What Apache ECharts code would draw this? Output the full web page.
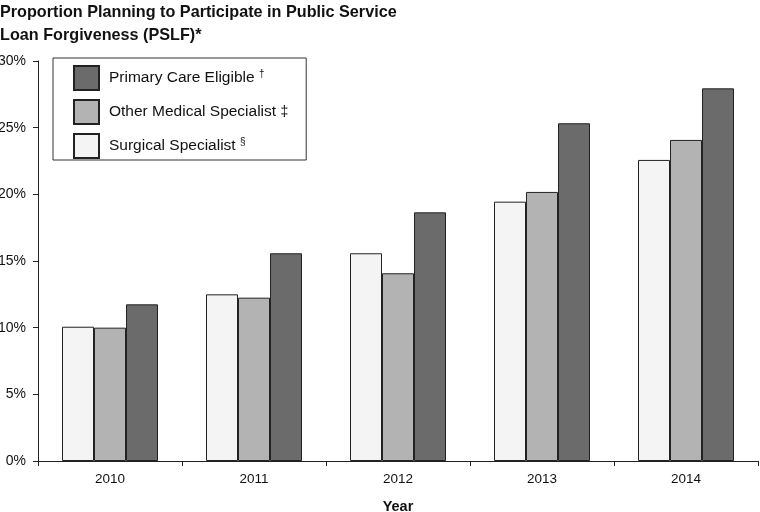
<!DOCTYPE html>
<html>
<head>
<meta charset="utf-8">
<script src="https://cdn.jsdelivr.net/npm/echarts@6/dist/echarts.min.js"></script>
<style>html,body{margin:0;padding:0;background:#fff;overflow:hidden}#c{width:760px;height:512px}</style>
</head>
<body>
<div id="c"></div>
<script>
const years = ['2010', '2011', '2012', '2013', '2014'];
const surgical = [10.07, 12.5, 15.58, 19.45, 22.58];
const otherMedical = [10.0, 12.25, 14.08, 20.18, 24.08];
const primaryCare = [11.75, 15.58, 18.65, 25.33, 27.95];
const yTicks = [0, 5, 10, 15, 20, 25, 30];
const seriesNames = ['Surgical Specialist', 'Other Medical Specialist', 'Primary Care Eligible'];
const marks = {'Primary Care Eligible': '{s|†}', 'Other Medical Specialist': '{m|‡}', 'Surgical Specialist': '{s|§}'};

const chart = echarts.init(document.getElementById('c'), null, {width: 760, height: 512});
const font = '"Liberation Sans", Arial, sans-serif';
const colors = ['#f4f4f4', '#b3b3b3', '#6b6b6b'];
const vals = [surgical, otherMedical, primaryCare];

chart.setOption({
  animation: false,
  textStyle: {fontFamily: font},
  title: {
    text: 'Proportion Planning to Participate in Public Service\nLoan Forgiveness (PSLF)*',
    left: 0, top: 1, padding: 0,
    textStyle: {fontFamily: font, fontWeight: 'bold', fontSize: 16.2, lineHeight: 23, color: '#111'}
  },
  legend: {
    orient: 'vertical',
    left: 53, top: 58,
    padding: [7, 18, 1, 20],
    borderColor: '#333', borderWidth: 1,
    itemWidth: 25, itemHeight: 24, itemGap: 8,
    icon: 'rect',
    data: ['Primary Care Eligible', 'Other Medical Specialist', 'Surgical Specialist'],
    formatter: n => n + ' ' + marks[n],
    textStyle: {
      fontFamily: font, fontSize: 15.5, lineHeight: 18, color: '#111', padding: [0, 0, 0, 5],
      rich: {
        s: {fontSize: 10, lineHeight: 18, fontFamily: font, color: '#111', verticalAlign: 'top', padding: [0, 0, 5, 0]},
        m: {fontSize: 14, lineHeight: 18, fontFamily: font, color: '#111'}
      }
    }
  },
  grid: {left: 38, width: 720, top: 61, height: 400, containLabel: false, outerBoundsMode: 'none'},
  xAxis: {
    type: 'category', data: years,
    name: 'Year', nameLocation: 'middle', nameGap: 38,
    nameTextStyle: {fontFamily: font, fontWeight: 'bold', fontSize: 14.5, color: '#111'},
    axisLine: {lineStyle: {color: '#222', width: 1}},
    axisTick: {show: true, length: 5, alignWithLabel: false, lineStyle: {color: '#222'}},
    axisLabel: {fontFamily: font, fontSize: 13.5, color: '#111', margin: 11}
  },
  yAxis: {
    type: 'value', min: 0, max: 30, interval: 5,
    axisLine: {show: true, lineStyle: {color: '#222', width: 1}},
    axisTick: {show: true, length: 5, lineStyle: {color: '#222'}},
    splitLine: {show: false},
    axisLabel: {fontFamily: font, fontSize: 14, color: '#111', margin: 12,
      formatter: v => yTicks.includes(v) ? v + '%' : ''}
  },
  series: seriesNames.map((n, i) => ({
    name: n, type: 'bar', data: vals[i],
    barWidth: 32, barGap: '0%',
    itemStyle: {color: colors[i], borderColor: '#222', borderWidth: 1}
  }))
});
</script>
</body>
</html>
